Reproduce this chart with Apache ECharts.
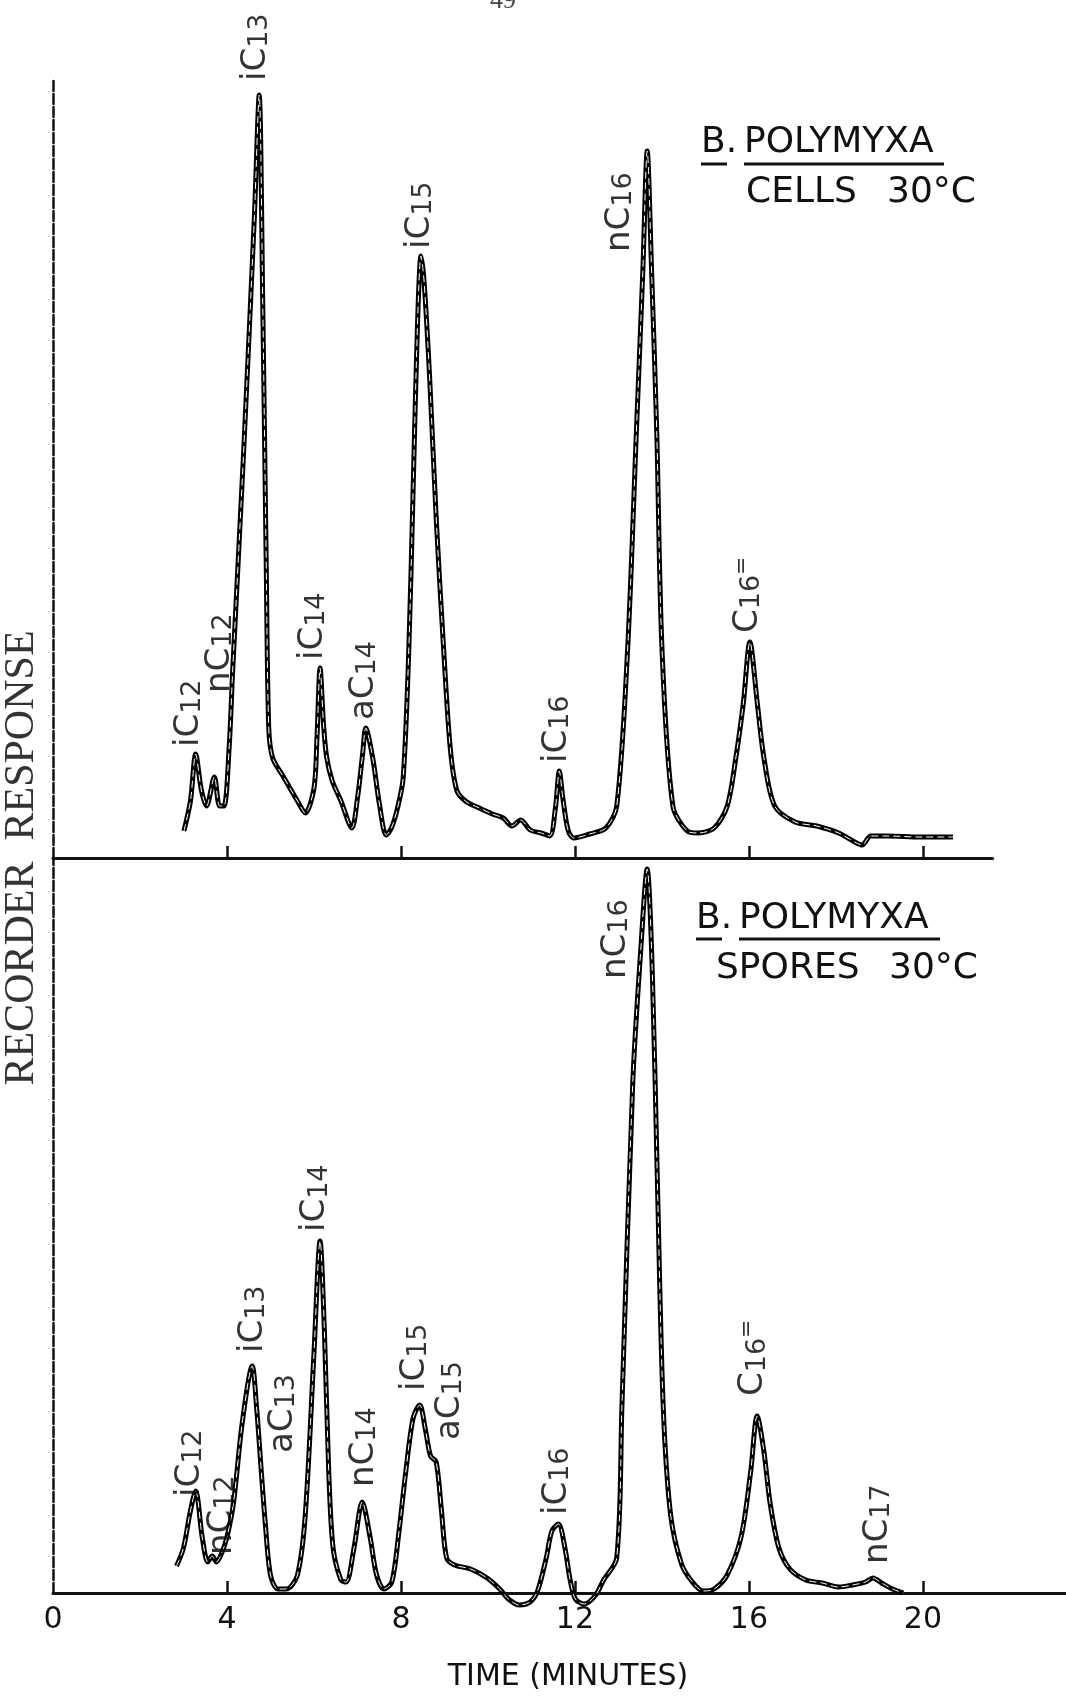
<!DOCTYPE html>
<html>
<head>
<meta charset="utf-8">
<script src="https://cdn.jsdelivr.net/npm/echarts@6/dist/echarts.min.js"></script>
<style>
  html, body { margin: 0; padding: 0; background: #fff; }
  #chart { width: 1066px; height: 1697px; }
</style>
</head>
<body>
<div id="chart"></div>
<script>
// 时间轴刻度 (minutes)
const tickValues = [4, 8, 12, 16, 20];
const tickLabels = [0, 4, 8, 12, 16, 20];

// B. polymyxa cells 30°C — recorder response
const cellsTime = [3.01, 3.16, 3.28, 3.41, 3.53, 3.71, 3.83, 3.93, 4.05, 4.13, 4.38, 4.63, 4.74,
  4.82, 4.90, 4.96, 5.05, 5.30, 5.62, 5.80, 6.00, 6.07, 6.14, 6.22, 6.29, 6.42, 6.62, 6.87,
  7.00, 7.12, 7.19, 7.35, 7.50, 7.66, 7.78, 7.92, 8.05, 8.18, 8.28, 8.38, 8.46, 8.53, 8.66,
  8.81, 8.98, 9.13, 9.28, 9.48, 9.80, 10.10, 10.35, 10.55, 10.75, 10.97, 11.22, 11.42, 11.55,
  11.64, 11.72, 11.84, 11.97, 12.34, 12.71, 12.96, 13.21, 13.41, 13.56, 13.66, 13.76, 13.88,
  14.00, 14.25, 14.58, 14.83, 15.20, 15.50, 15.70, 15.87, 16.02, 16.19, 16.34, 16.59, 17.06,
  17.56, 18.06, 18.43, 18.60, 18.80, 19.18, 19.93, 20.69];
const cellsResponse = [27, 57, 104, 68, 52, 81, 52, 52, 111, 187, 404, 642, 763,
  560, 300, 130, 100, 81, 57, 45, 70, 122, 190, 133, 101, 77, 57, 30,
  60, 105, 130, 100, 55, 23, 30, 50, 80, 209, 371, 534, 602, 577, 479,
  339, 209, 111, 68, 57, 50, 44, 40, 32, 38, 28, 25, 22, 50,
  87, 60, 28, 20, 24, 30, 52, 209, 425, 588, 707, 588, 425,
  209, 52, 27, 25, 30, 52, 101, 155, 216, 155, 101, 52, 36,
  32, 25, 16, 13, 22, 22, 21, 21];

// B. polymyxa spores 30°C
const sporesTime = [2.84, 3.00, 3.15, 3.28, 3.43, 3.56, 3.66, 3.76, 3.88, 4.00, 4.15, 4.35,
  4.58, 4.68, 4.80, 4.88, 5.00, 5.17, 5.37, 5.62, 5.80, 6.00, 6.14, 6.24, 6.34, 6.44, 6.62,
  6.74, 6.92, 7.11, 7.29, 7.44, 7.61, 7.79, 7.94, 8.11, 8.28, 8.43, 8.56, 8.68, 8.81, 8.93,
  9.05, 9.23, 9.60, 9.98, 10.27, 10.47, 10.72, 10.97, 11.14, 11.34, 11.47, 11.62, 11.77,
  11.89, 12.01, 12.21, 12.46, 12.66, 12.96, 13.08, 13.33, 13.51, 13.66, 13.78, 13.90, 14.03,
  14.20, 14.45, 14.70, 14.95, 15.20, 15.50, 15.82, 16.04, 16.19, 16.34, 16.49, 16.69, 16.94,
  17.31, 17.69, 18.06, 18.38, 18.68, 18.85, 19.05, 19.30, 19.55];
const sporesResponse = [27, 45, 80, 102, 56, 31, 37, 31, 40, 56, 90, 170,
  227, 186, 115, 70, 18, 4, 4, 18, 78, 240, 352, 262, 121, 45, 13,
  11, 45, 91, 56, 18, 4, 11, 56, 121, 175, 188, 164, 137, 131, 83,
  35, 28, 24, 15, 4, -6, -12, -9, 2, 35, 62, 69, 45,
  13, -6, -11, -3, 13, 35, 186, 511, 641, 724, 619, 403, 186,
  78, 29, 11, 2, 4, 18, 56, 121, 177, 143, 89, 45, 24,
  13, 10, 6, 8, 11, 15, 10, 4, 0];

// peak names: main|subscript|superscript
const cellsPeakNames = ['iC|12', 'nC|12', 'iC|13', 'iC|14', 'aC|14', 'iC|15', 'iC|16', 'nC|16', 'C|16|='];
const cellsLabelTime = [3.22, 3.93, 4.76, 6.08, 7.24, 8.53, 11.68, 13.13, 16.07];
const cellsLabelLevel = [111, 165, 777, 198, 138, 609, 95, 606, 225];

const sporesPeakNames = ['iC|12', 'nC|12', 'iC|13', 'aC|13', 'iC|14', 'nC|14', 'iC|15', 'aC|15', 'iC|16', 'nC|16', 'C|16|=', 'nC|17'];
const sporesLabelTime = [3.25, 3.98, 4.70, 5.38, 6.13, 7.25, 8.42, 9.22, 11.68, 13.03, 16.2, 19.06];
const sporesLabelLevel = [96, 38, 240, 140, 361, 106, 202, 153, 78, 614, 197, 29];

const FONT = 'DejaVu Sans';
const INK = '#111';

const zip = (xs, ys) => xs.map((x, i) => [x, ys[i]]);

const richName = (name) => {
  const [m, s, p] = name.split('|');
  let str = '{m|' + m + '}{s|' + s + '}';
  if (p) str += '{p|' + p + '}';
  return str;
};

const peakLabelSeries = (idx, names, times, levels) => ({
  type: 'scatter',
  xAxisIndex: idx,
  yAxisIndex: idx,
  symbolSize: 0,
  silent: true,
  z: 5,
  data: times.map((t, i) => ({ value: [t, levels[i]], name: names[i] })),
  label: {
    show: true,
    position: [0, 0],
    rotate: 90,
    align: 'left',
    verticalAlign: 'middle',
    formatter: (p) => richName(p.name),
    rich: {
      // main letters sit high in the line, subscript low -> after rotation the digits shift right
      m: { fontFamily: FONT, fontSize: 34, color: '#000', lineHeight: 26, verticalAlign: 'top' },
      s: { fontFamily: FONT, fontSize: 27, color: '#000', lineHeight: 42, verticalAlign: 'middle' },
      p: { fontFamily: FONT, fontSize: 22, color: '#000', lineHeight: 14, verticalAlign: 'top' },
    },
  },
});

// 记录笔画成双线：黑色粗线上叠一条细白线
const traceSeries = (idx, data) => [
  {
    type: 'line', xAxisIndex: idx, yAxisIndex: idx, data: data,
    showSymbol: false, smooth: 0.3, clip: false, silent: true, z: 2,
    lineStyle: { color: '#000', width: 5 },
  },
  {
    type: 'line', xAxisIndex: idx, yAxisIndex: idx, data: data,
    showSymbol: false, smooth: 0.3, clip: false, silent: true, z: 3,
    lineStyle: { color: '#fff', width: 1, type: [7, 4] },
  },
];

const baseXAxis = {
  type: 'value',
  min: 0,
  interval: 4,
  splitLine: { show: false },
  axisLine: { show: true, onZero: false, lineStyle: { color: INK, width: 3 } },
  axisTick: { show: true, inside: true, length: 12, customValues: tickValues, lineStyle: { color: INK, width: 2.5 } },
};

const baseYAxis = {
  type: 'value',
  min: 0,
  splitLine: { show: false },
  axisTick: { show: false },
  axisLabel: { show: false },
  axisLine: { show: true, onZero: false, lineStyle: { color: '#111', width: 2.5, type: [10, 3] } },
};

const chart = echarts.init(document.getElementById('chart'), null, { renderer: 'canvas' });

const titleText = (x, y, text) => ({
  type: 'text', x: x, y: y,
  style: { text: text, font: '36px "DejaVu Sans"', fill: INK, align: 'left', verticalAlign: 'middle' },
});
const rule = (x1, x2, y) => ({
  type: 'line', shape: { x1: x1, y1: y, x2: x2, y2: y }, style: { stroke: INK, lineWidth: 3 },
});

const option = {
  backgroundColor: '#fff',
  animation: false,
  grid: [
    { left: 53, top: 78, width: 939.6, height: 780 },
    { left: 53, top: 858, width: 1013, height: 735 },
  ],
  xAxis: [
    Object.assign({}, baseXAxis, { gridIndex: 0, max: 21.6, axisLabel: { show: false } }),
    Object.assign({}, baseXAxis, {
      gridIndex: 1, max: 23.29,
      axisLabel: { show: true, customValues: tickLabels, margin: 12,
        fontFamily: FONT, fontSize: 30, color: INK },
    }),
  ],
  yAxis: [
    Object.assign({}, baseYAxis, { gridIndex: 0, max: 780 }),
    Object.assign({}, baseYAxis, { gridIndex: 1, max: 735 }),
  ],
  series: [
    ...traceSeries(0, zip(cellsTime, cellsResponse)),
    ...traceSeries(1, zip(sporesTime, sporesResponse)),
    peakLabelSeries(0, cellsPeakNames, cellsLabelTime, cellsLabelLevel),
    peakLabelSeries(1, sporesPeakNames, sporesLabelTime, sporesLabelLevel),
  ],
  graphic: [
    // page number, cut at the top edge
    { type: 'text', left: 490, top: -12, style: { text: '49', font: '26px "Liberation Serif"', fill: '#444' } },
    // y axis title
    {
      type: 'text', x: 22, y: 858, rotation: Math.PI / 2,
      style: { text: 'RECORDER  RESPONSE', font: '42px "Liberation Serif"', fill: '#333',
        align: 'center', verticalAlign: 'middle' },
    },
    // x axis title
    {
      type: 'text', x: 568, y: 1677,
      style: { text: 'TIME (MINUTES)', font: '30px "DejaVu Sans"', fill: INK, align: 'center', verticalAlign: 'middle' },
    },
    // panel titles
    titleText(701, 143, 'B.'),
    titleText(744, 143, 'POLYMYXA'),
    rule(701, 727, 164),
    rule(744, 944, 164),
    titleText(746, 193, 'CELLS'),
    titleText(887, 193, '30°C'),

    titleText(696, 919, 'B.'),
    titleText(739, 919, 'POLYMYXA'),
    rule(696, 722, 939),
    rule(739, 940, 939),
    titleText(716, 969, 'SPORES'),
    titleText(889, 969, '30°C'),
  ],
};

chart.setOption(option);
window.addEventListener('resize', () => {
  chart.resize();
});
</script>
</body>
</html>
